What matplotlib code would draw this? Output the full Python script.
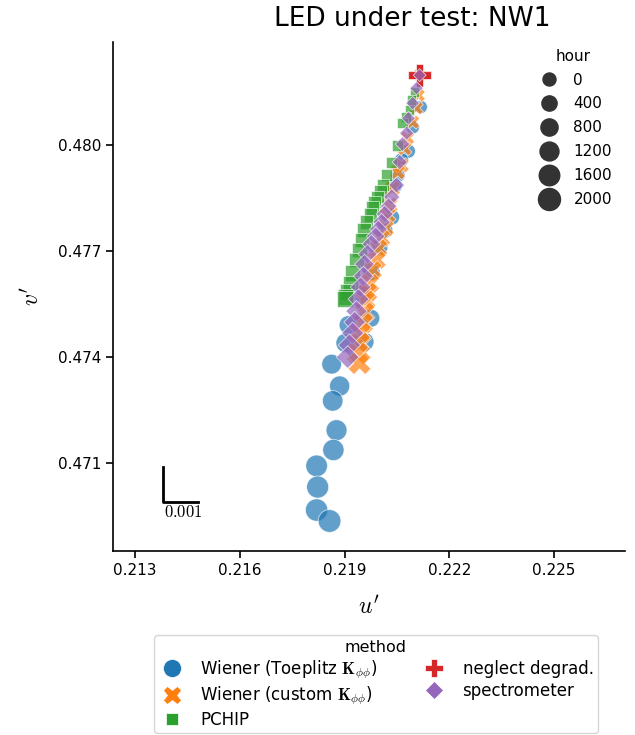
import numpy as np
import matplotlib
matplotlib.use("Agg")
import matplotlib.pyplot as plt
from matplotlib.lines import Line2D

plt.rcParams['mathtext.fontset'] = 'cm'
plt.rcParams['font.family'] = ['DejaVu Sans']

# operating hours of the ageing test
hours = [0, 50, 100, 150, 200, 300, 400, 500, 600, 700, 800, 900, 1000,
         1100, 1200, 1300, 1400, 1500, 1600, 1700, 1800, 1900, 2000, 2100, 2200]

# chromaticity (u', v') per method
u_toep = [0.22115, 0.22118, 0.22095, 0.22083, 0.22063, 0.22052, 0.22043, 0.22035,
          0.22015, 0.22000, 0.21977, 0.21949, 0.21975, 0.21911, 0.21957, 0.21903,
          0.21863, 0.21886, 0.21866, 0.21877, 0.21868, 0.21820, 0.21823, 0.21820, 0.21857]
v_toep = [0.48198, 0.48108, 0.48051, 0.47983, 0.47958, 0.47915, 0.47884, 0.47796,
          0.47759, 0.47711, 0.47641, 0.47576, 0.47510, 0.47491, 0.47443, 0.47440,
          0.47380, 0.47318, 0.47276, 0.47193, 0.47137, 0.47092, 0.47032, 0.46967, 0.46936]

u_cust = [0.22115, 0.22112, 0.22106, 0.22095, 0.22080, 0.22072, 0.22063, 0.22052,
          0.22037, 0.22029, 0.22023, 0.22017, 0.22006, 0.21997, 0.21992, 0.21980,
          0.21972, 0.21966, 0.21960, 0.21957, 0.21952, 0.21946, 0.21943, 0.21937, 0.21943]
v_cust = [0.48198, 0.48141, 0.48105, 0.48065, 0.48020, 0.47991, 0.47943, 0.47924,
          0.47878, 0.47830, 0.47802, 0.47765, 0.47737, 0.47708, 0.47675, 0.47646,
          0.47609, 0.47584, 0.47561, 0.47527, 0.47496, 0.47468, 0.47440, 0.47411, 0.47383]

u_pchip = [0.22115, 0.22100, 0.22092, 0.22086, 0.22075, 0.22066, 0.22052, 0.22035,
           0.22020, 0.22009, 0.22003, 0.21995, 0.21986, 0.21980, 0.21974, 0.21963,
           0.21957, 0.21949, 0.21943, 0.21934, 0.21923, 0.21917, 0.21909, 0.21903, 0.21900]
v_pchip = [0.48198, 0.48150, 0.48127, 0.48099, 0.48079, 0.48062, 0.48000, 0.47952,
           0.47915, 0.47887, 0.47870, 0.47853, 0.47839, 0.47822, 0.47802, 0.47782,
           0.47759, 0.47731, 0.47703, 0.47675, 0.47638, 0.47609, 0.47584, 0.47570, 0.47564]

u_negl = [0.22115] * 25
v_negl = [0.48198] * 25

u_spec = [0.22115, 0.22106, 0.22095, 0.22083, 0.22078, 0.22066, 0.22058, 0.22049,
          0.22035, 0.22026, 0.22015, 0.22006, 0.21997, 0.21989, 0.21977, 0.21966,
          0.21957, 0.21954, 0.21946, 0.21940, 0.21934, 0.21929, 0.21923, 0.21914, 0.21909]
v_spec = [0.48198, 0.48161, 0.48119, 0.48076, 0.48034, 0.48003, 0.47952, 0.47887,
          0.47853, 0.47827, 0.47805, 0.47782, 0.47762, 0.47742, 0.47720, 0.47692,
          0.47663, 0.47629, 0.47598, 0.47564, 0.47530, 0.47499, 0.47468, 0.47434, 0.47400]

methods = [r'Wiener (Toeplitz $\mathbf{K}_{\phi\phi}$)',
           r'Wiener (custom $\mathbf{K}_{\phi\phi}$)',
           'PCHIP', 'neglect degrad.', 'spectrometer']
colors = ['#1f77b4', '#ff7f0e', '#2ca02c', '#d62728', '#9467bd']
markers = ['o', 'X', (4, 0, 45), 'P', (4, 0, 0)]
us = [u_toep, u_cust, u_pchip, u_negl, u_spec]
vs = [v_toep, v_cust, v_pchip, v_negl, v_spec]

size_ticks = [0, 400, 800, 1200, 1600, 2000]

def hour_size(h):
    return 88 + np.asarray(h) * 0.0817

fig = plt.figure(figsize=(6.35, 7.35), dpi=100)
ax = fig.add_axes([113/635, 1-551/735, 512/635, 509/735])

for u, v, c, m in zip(us, vs, colors, markers):
    ax.scatter(u, v, s=hour_size(hours), c=c, marker=m, alpha=0.7,
               edgecolors='white', linewidths=0.6)

# scale bar
ax.plot([0.21379, 0.21379, 0.21479], [0.47090, 0.46990, 0.46990], color='black', lw=2)
ax.text(0.21382, 0.46988, '$0.001$', fontsize=12, va='top', ha='left')

ax.set_xlim(0.21237, 0.22703)
ax.set_ylim(0.46851, 0.48292)
ax.set_xticks([0.213, 0.216, 0.219, 0.222, 0.225])
ax.set_yticks([0.471, 0.474, 0.477, 0.480])
ax.tick_params(labelsize=11, length=5, width=1.2)
for sp in ['top', 'right']:
    ax.spines[sp].set_visible(False)
for sp in ['left', 'bottom']:
    ax.spines[sp].set_linewidth(1.2)
ax.set_xlabel("$u'$", fontsize=17, labelpad=12)
ax.set_ylabel("$v'$", fontsize=17, labelpad=10)

fig.text(412/635, 1-19/735, 'LED under test: NW1', fontsize=19, ha='center', va='center')

# hour size legend
size_handles = [Line2D([], [], ls='', marker='o', color='0.2',
                       markersize=np.sqrt(hour_size(h))) for h in size_ticks]
leg1 = fig.legend(size_handles, [str(h) for h in size_ticks], title='hour',
                  loc='upper left', bbox_to_anchor=(523/635, 1-38/735),
                  frameon=False, fontsize=11, title_fontsize=11,
                  labelspacing=0.58, handletextpad=0.6, borderpad=0.2)

# method legend
meth_handles = [Line2D([], [], ls='', marker=m, color=c, markeredgecolor='white',
                       markeredgewidth=0.5,
                       markersize=13 if m != (4, 0, 45) else 12)
                for c, m in zip(colors, markers)]
leg2 = fig.legend(meth_handles, methods, title='method', ncol=2,
                  loc='upper center', bbox_to_anchor=(376/635, 1-627/735),
                  fontsize=12, title_fontsize=11.5, handletextpad=0.9,
                  handlelength=1.6, columnspacing=2.6, labelspacing=0.22,
                  borderpad=0.25)

fig.savefig('out.png', dpi=100)
